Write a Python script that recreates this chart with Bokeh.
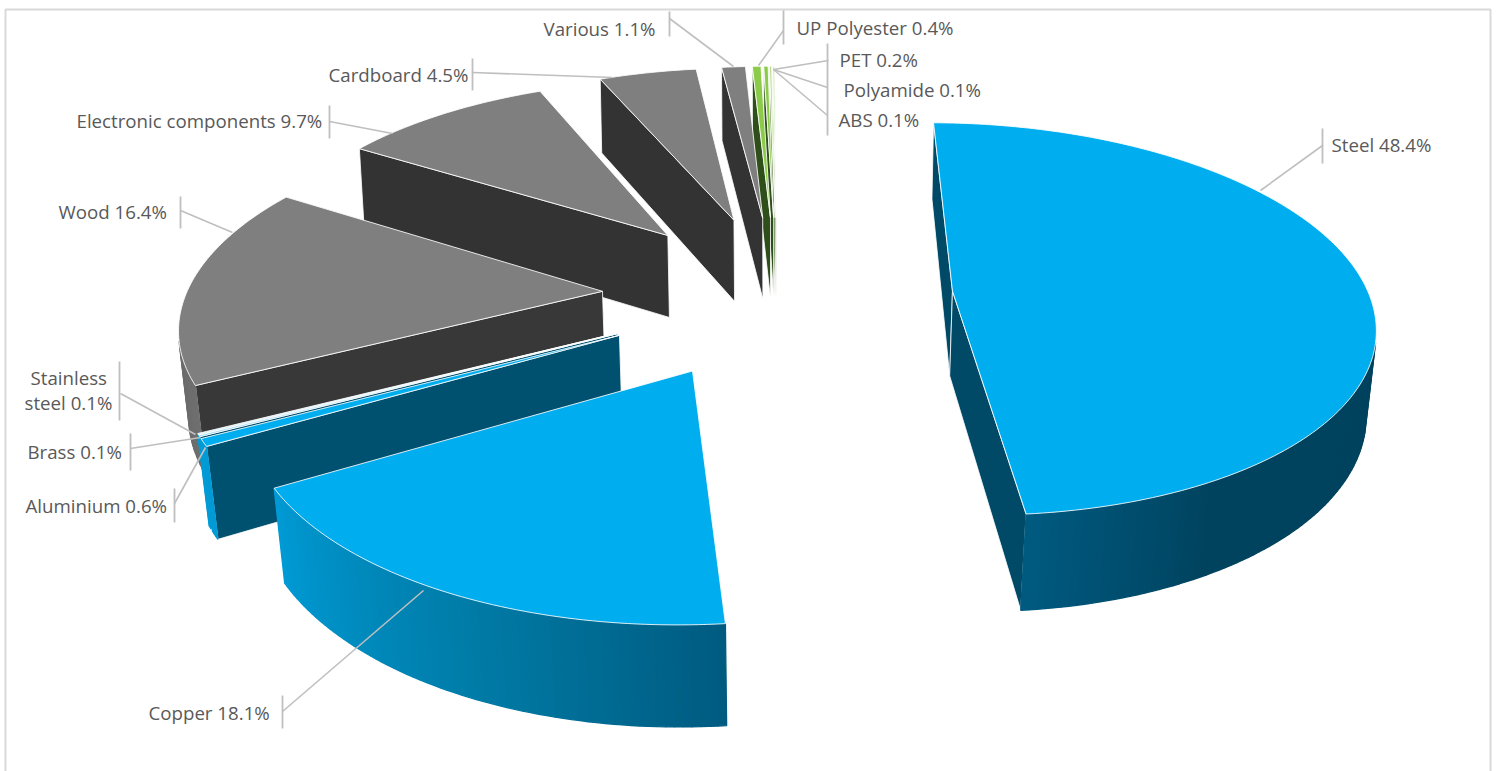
import numpy as np
from bokeh.plotting import figure
from bokeh.models import Range1d
from bokeh.core.properties import value
from bokeh.embed import file_html
from bokeh.resources import INLINE

# ---- data ----
materials = ["Steel", "Copper", "Aluminium", "Brass", "Stainless steel", "Wood",
             "Electronic components", "Cardboard", "Various", "UP Polyester", "PET",
             "Polyamide", "ABS"]
shares = [48.4, 18.1, 0.6, 0.1, 0.1, 16.4, 9.7, 4.5, 1.1, 0.4, 0.2, 0.1, 0.1]

# ---- styles ----
top_colors = ["#00AEEF", "#00AEEF", "#00AEEF", "#7FD6F7", "#CFEFFB", "#7F7F7F", "#7F7F7F",
              "#7F7F7F", "#7F7F7F", "#8CCB4A", "#8CCB4A", "#B5DE8A", "#D5EDBF"]
side_colors = ["#004A68", "#00506F", "#00506F", "#00506F", "#6A8A99", "#383838", "#333333",
               "#333333", "#333333", "#2F4F1A", "#2F4F1A", "#4A6B2A", "#6A8A4A"]
BLUE_STOPS = [(0, "#00425C"), (150, "#00435F"), (174, "#005A80"), (200, "#0078A2"), (240, "#009BD6"), (244, "#009BD6")]
GREY_STOPS = [(240, "#707070"), (302, "#5A5A5A"), (360, "#5A5A5A")]

# ---- projection of the pie's plane to the page ----
CX, CY, AX, BY, PERSP = 777.0, 294.0, 181.0, 84.0, 0.062
EXPLODE, RADIUS, ROT = 0.97, 2.30, 0.45

def project(x, y):
    w = 1 - PERSP * y
    return CX + AX * x / w, CY + BY * y / w, w

def drop(u, v, w):
    shrink = 0.024 - 0.04 * (w - 0.8)
    return CX + (u - CX) * (1 - shrink), v + 15 + 70 / w

def hex2rgb(h):
    return np.array([int(h[i:i + 2], 16) for i in (1, 3, 5)], float)

def shade(stops, a):
    a = float(np.clip(a, stops[0][0], stops[-1][0]))
    for (a0, c0), (a1, c1) in zip(stops, stops[1:]):
        if a <= a1:
            t = (a - a0) / max(a1 - a0, 1e-6)
            c = hex2rgb(c0) * (1 - t) + hex2rgb(c1) * t
            return "#%02x%02x%02x" % tuple(int(round(q)) for q in c)
    return stops[-1][1]

def visible(px, py):
    s = 0.0
    for k in range(4):
        s += px[k] * py[(k + 1) % 4] - px[(k + 1) % 4] * py[k]
    return s < 0

p = figure(width=1496, height=771, output_backend="svg", toolbar_location=None,
           x_range=Range1d(0, 1496), y_range=Range1d(771, 0), min_border=0,
           outline_line_color=None, background_fill_color="white")
p.axis.visible = False
p.grid.visible = False

# chart frame (open at the bottom)
p.line([5, 5, 1490, 1490], [771, 9, 9, 771], line_color="#D9D9D9", line_width=2)

ends = np.cumsum(shares) * 3.6
starts = ends - np.array(shares) * 3.6

for i in reversed(range(len(shares))):
    a0, a1 = starts[i], ends[i]
    mid = np.radians((a0 + a1) / 2 + ROT)
    ox, oy = EXPLODE * np.sin(mid), -EXPLODE * np.cos(mid)
    angs = np.linspace(a0, a1, max(int(a1 - a0) + 2, 3))
    rad = np.radians(angs + ROT)
    rx = ox + RADIUS * np.sin(rad)
    ry = oy - RADIUS * np.cos(rad)
    u, v, w = project(rx, ry)
    au, av, aw = project(ox, oy)
    ub, vb = drop(u, v, w)
    aub, avb = drop(au, av, aw)

    # radial walls
    walls = [((au, av, aub, avb), (u[0], v[0], ub[0], vb[0])),
             ((u[-1], v[-1], ub[-1], vb[-1]), (au, av, aub, avb))]
    for (p0, q0) in walls:
        xs = [p0[0], q0[0], q0[2], p0[2]]
        ys = [p0[1], q0[1], q0[3], p0[3]]
        if visible(xs, ys):
            p.patch(xs, ys, fill_color=side_colors[i], line_color="white", line_width=1, line_alpha=0.8)

    # outer wall, shaded along the arc
    stops = BLUE_STOPS if a1 <= 245 else GREY_STOPS
    pxs, pys, cols = [], [], []
    for k in range(len(angs) - 1):
        xs = [u[k], u[k + 1], ub[k + 1], ub[k]]
        ys = [v[k], v[k + 1], vb[k + 1], vb[k]]
        if visible(xs, ys):
            pxs.append(xs)
            pys.append(ys)
            cols.append(shade(stops, (angs[k] + angs[k + 1]) / 2) if i < 8 else side_colors[i])
    if pxs:
        p.patches(pxs, pys, fill_color=cols, line_color=cols, line_width=1.3)

    # top face
    p.patch([au] + list(u), [av] + list(v), fill_color=top_colors[i],
            line_color="white", line_width=1, line_alpha=0.85)

# ---- labels: text, anchor and leader layout ----
LBL = {
    0: (1331, 144), 1: (148, 712), 2: (25, 505), 3: (27, 451), 5: (58, 211), 6: (76, 120),
    7: (328, 74), 8: (543, 28), 9: (796, 27), 10: (839, 59), 11: (843, 89), 12: (838, 119),
}
tx, ty, tt = [], [], []
for k, pos in LBL.items():
    tx.append(pos[0]); ty.append(pos[1]); tt.append(f"{materials[k]} {shares[k]:.1f}%")
tx += [30, 24]; ty += [377, 402]; tt += ["Stainless", f"steel {shares[4]:.1f}%"]

bars = [(1322, 128, 163), (282, 695, 728), (174, 488, 522), (130, 433, 470), (119, 361, 420),
        (180, 196, 228), (329, 105, 138), (472, 58, 90), (669, 11, 36), (783, 10, 44), (827, 43, 135)]
leaders = [((1322, 145), (1260, 190)), ((282, 711), (423, 590)), ((174, 503), (205, 447)),
           ((130, 448), (200, 437)), ((120, 393), (195, 434)), ((180, 210), (232, 232)),
           ((329, 121), (392, 133)), ((472, 72), (612, 77)), ((669, 18), (733, 66)),
           ((783, 30), (758, 65)), ((828, 60), (773, 69)), ((827, 87), (773, 69)), ((827, 115), (773, 69))]
for x, y0, y1 in bars:
    p.line([x, x], [y0, y1], line_color="#BFBFBF", line_width=1.8)
for a, b in leaders:
    p.line([a[0], b[0]], [a[1], b[1]], line_color="#BFBFBF", line_width=1.6)

p.text(x=tx, y=ty, text=tt, text_font=value("Open Sans"), text_font_size="18.7px",
       text_color="#595959", text_align="left", text_baseline="middle")

open("out.html", "w").write(file_html(p, INLINE))
